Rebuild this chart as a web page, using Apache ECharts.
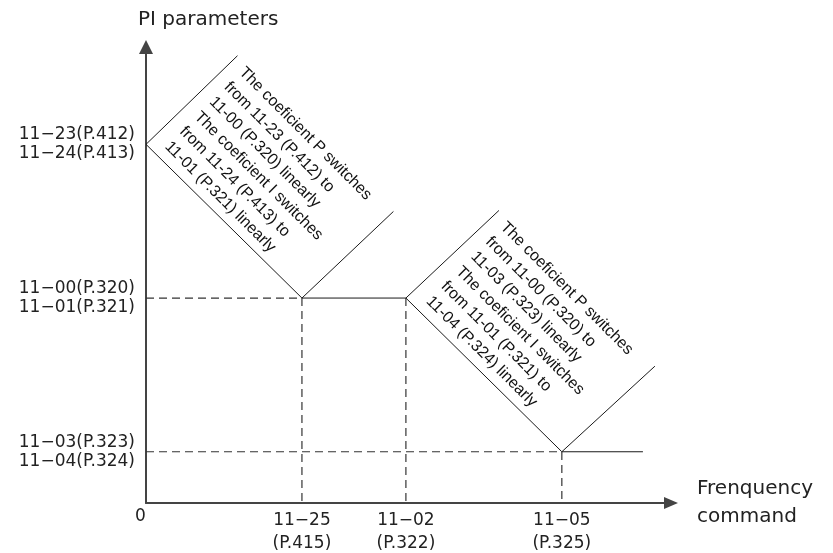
<!DOCTYPE html>
<html><head><meta charset="utf-8">
<script src="https://cdn.jsdelivr.net/npm/echarts@6/dist/echarts.min.js"></script>
<style>html,body{margin:0;padding:0;background:#fff}#c{width:833px;height:553px}</style>
</head><body><div id="c"></div>
<script>
// ---- data ----
const xTickValues = [0, 3, 5, 8];
const xTickLabels = ['0', '11−25\n(P.415)', '11−02\n(P.322)', '11−05\n(P.325)'];
const yTickValues = [1, 4, 7];
const yTickLabels = ['11−03(P.323)\n11−04(P.324)', '11−00(P.320)\n11−01(P.321)', '11−23(P.412)\n11−24(P.413)'];
const curveX = [0, 3, 5, 8, 9.56];
const curveY = [7, 4, 4, 1, 1];
const guideLow = [[0, 1], [8, 1], [8, 0]];
const guideMid = [[0, 4], [3, 4], [3, 0]];
const guideMid2 = [[5, 4], [5, 0]];
const box1Left = [[0, 7], [1.76, 8.73]];
const box1Right = [[3, 4], [4.76, 5.69]];
const box2Left = [[5, 4], [6.79, 5.71]];
const box2Right = [[8, 1], [9.79, 2.67]];
const noteX = [1.98, 7.01];
const noteY = [8.60, 5.58];
const noteTexts = [
  'The coeficient P switches\nfrom 11-23 (P.412) to\n11-00 (P.320) linearly\nThe coeficient I switches\nfrom 11-24 (P.413) to\n11-01 (P.321) linearly',
  'The coeficient P switches\nfrom 11-00 (P.320) to\n11-03 (P.323) linearly\nThe coeficient I switches\nfrom 11-01 (P.321) to\n11-04 (P.324) linearly'
];
const xName = 'Frenquency\ncommand';
const yName = 'PI parameters';

// ---- chart ----
const labelFont = 'DejaVu Sans';
const chart = echarts.init(document.getElementById('c'));
const segStyle = {color: '#1a1a1a', width: 1};
const dashStyle = {color: '#333', width: 1.2, type: [8, 5]};
function seg(data, style) {
  return {type: 'line', data: data, showSymbol: false, symbol: 'none', lineStyle: style, silent: true, z: 3};
}
chart.setOption({
  animation: false,
  backgroundColor: '#fff',
  grid: {left: 146, right: 162, top: 47, bottom: 50, outerBoundsMode: 'none', containLabel: false},
  xAxis: {
    type: 'value', min: 0, max: 10.1,
    name: xName, nameLocation: 'end', nameGap: 26,
    nameTextStyle: {fontFamily: labelFont, fontSize: 20, color: '#222', align: 'left', verticalAlign: 'middle', lineHeight: 28, padding: [12, 0, 0, 0]},
    axisLine: {show: true, symbol: ['none', 'triangle'], symbolSize: [12, 14], lineStyle: {color: '#444', width: 2}},
    axisTick: {show: false},
    splitLine: {show: false},
    axisLabel: {
      customValues: xTickValues, margin: 6, fontFamily: labelFont, fontSize: 17, color: '#222', lineHeight: 23,
      formatter: function (v) { const i = xTickValues.indexOf(v); return i === 0 ? '{zero|' + xTickLabels[0] + '}' : xTickLabels[i]; },
      rich: {zero: {fontFamily: labelFont, fontSize: 17, color: '#222', lineHeight: 15, padding: [0, 11, 0, 0]}}
    }
  },
  yAxis: {
    type: 'value', min: 0, max: 8.9,
    name: yName, nameLocation: 'end', nameGap: 17,
    nameTextStyle: {fontFamily: labelFont, fontSize: 20, color: '#222', align: 'left', padding: [0, 0, 0, -8]},
    axisLine: {show: true, symbol: ['none', 'triangle'], symbolSize: [14, 14], lineStyle: {color: '#444', width: 2}},
    axisTick: {show: false},
    splitLine: {show: false},
    axisLabel: {
      customValues: yTickValues, margin: 11, fontFamily: labelFont, fontSize: 17, color: '#222', lineHeight: 19,
      formatter: function (v) { return yTickLabels[yTickValues.indexOf(v)]; }
    }
  },
  series: [
    seg(guideLow, dashStyle), seg(guideMid, dashStyle), seg(guideMid2, dashStyle),
    seg(curveX.map((x, i) => [x, curveY[i]]), segStyle),
    seg(box1Left, segStyle), seg(box1Right, segStyle), seg(box2Left, segStyle), seg(box2Right, segStyle),
    {
      type: 'custom', silent: true, z: 4,
      data: noteX.map((x, i) => [x, noteY[i], i]),
      renderItem: function (params, api) {
        const p = api.coord([api.value(0), api.value(1)]);
        return {
          type: 'text', x: p[0], y: p[1], rotation: -Math.PI / 4,
          style: {text: noteTexts[api.value(2)], fontFamily: 'Liberation Sans', fontSize: 16, lineHeight: 21, fill: '#111', align: 'left', verticalAlign: 'top'}
        };
      }
    }
  ]
});
</script></body></html>
